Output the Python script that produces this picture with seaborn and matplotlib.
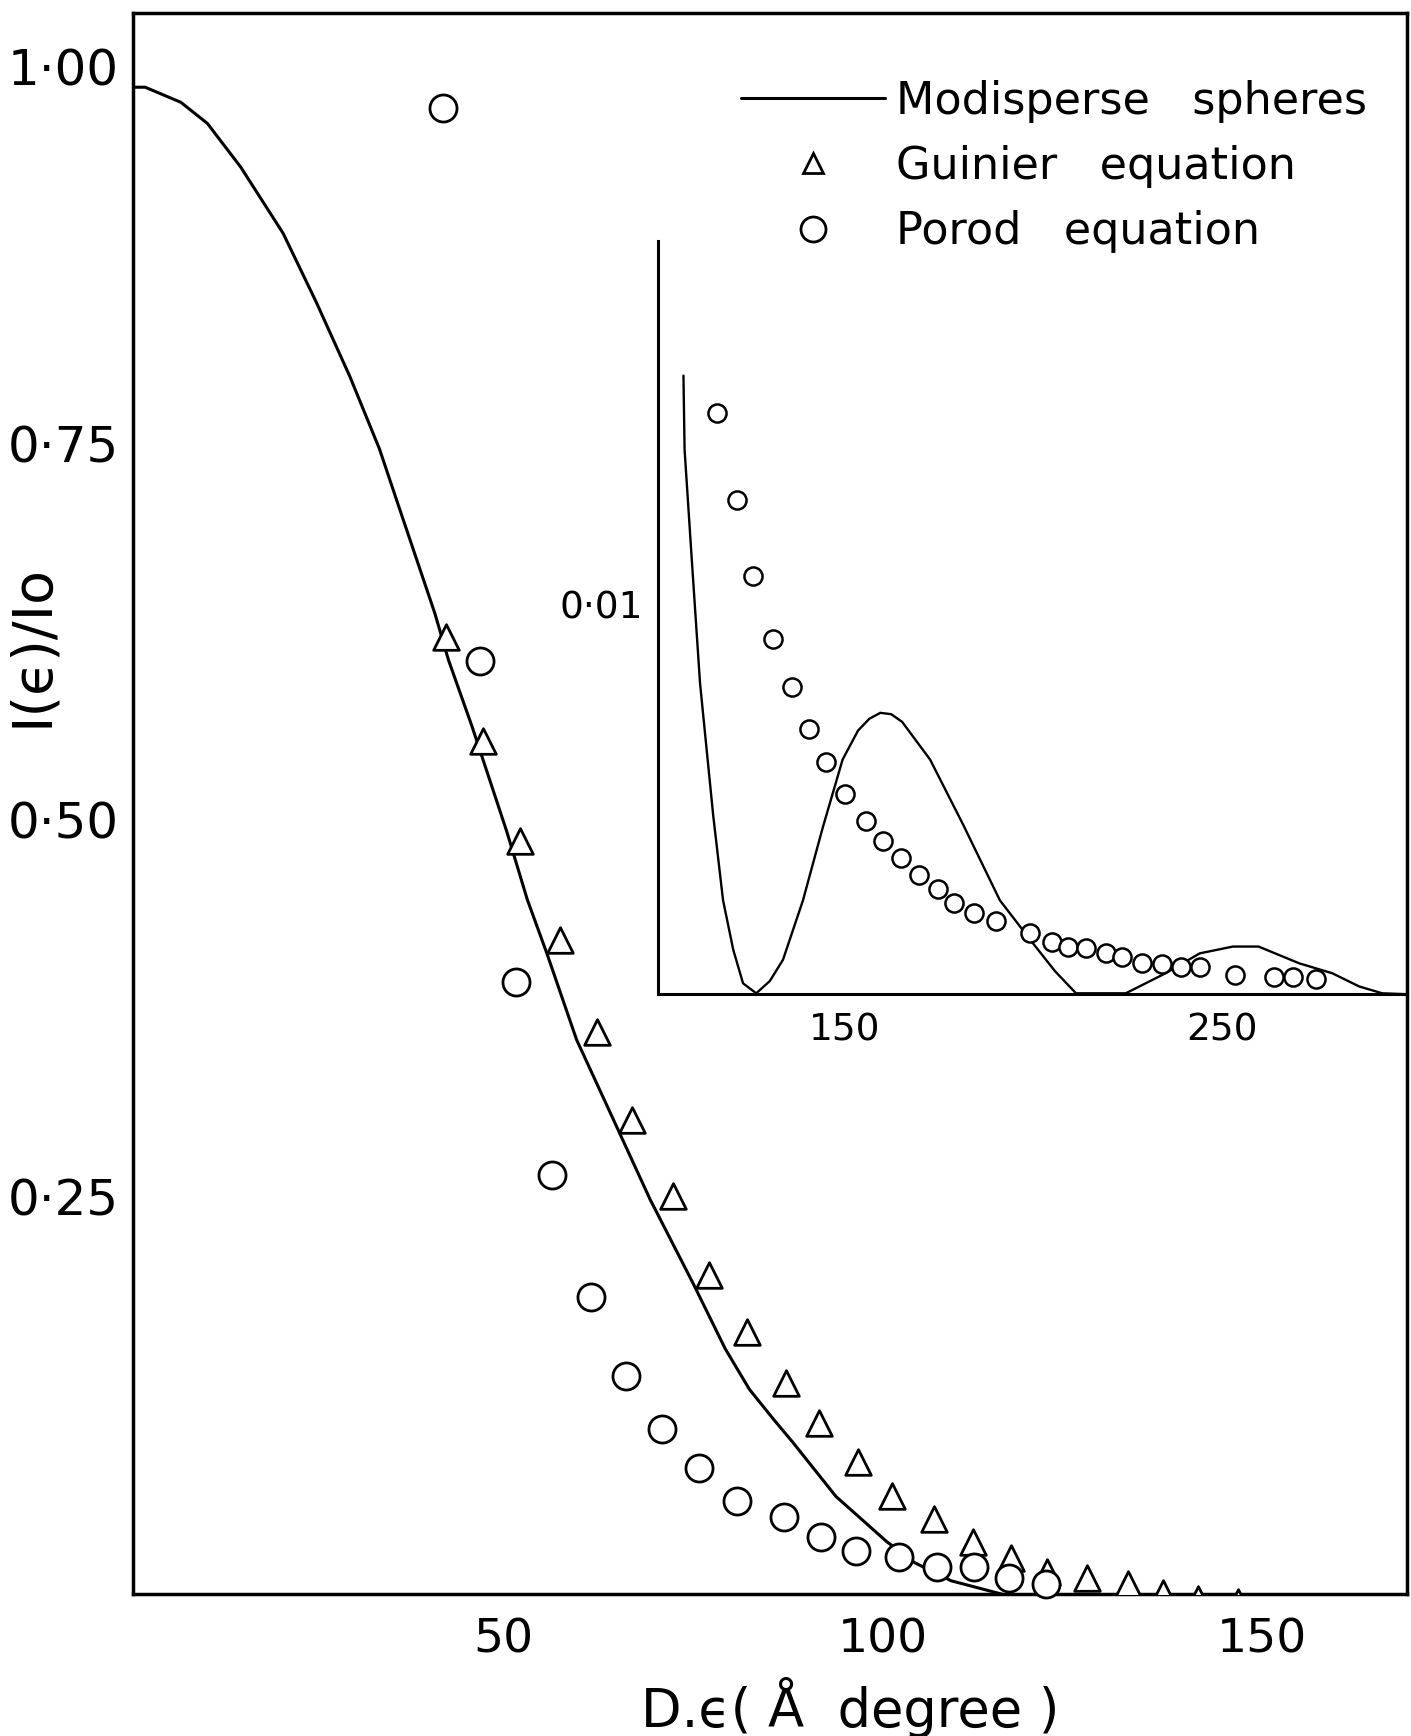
import numpy as np
import pandas as pd
import matplotlib
matplotlib.use("Agg")
import matplotlib.pyplot as plt
from matplotlib.lines import Line2D
from matplotlib.transforms import ScaledTranslation
import seaborn as sns

# --- main panel ---
# monodisperse spheres curve
sphere_x = [1.1, 2.7, 7.4, 10.9, 15.3, 20.9, 25.3, 29.7, 33.6, 35.8, 40.9, 42.7, 45.8,
            50.4, 53.1, 55.7, 59.6, 64.0, 69.3, 75.0, 79.2, 82.4, 85.6, 88.1, 93.8,
            100.5, 104.2, 109.0, 115.8]
sphere_y = [1.000, 1.000, 0.990, 0.976, 0.947, 0.903, 0.857, 0.808, 0.760, 0.727, 0.651,
            0.620, 0.576, 0.506, 0.461, 0.425, 0.368, 0.320, 0.262, 0.206, 0.163, 0.136,
            0.116, 0.101, 0.065, 0.035, 0.021, 0.009, 0.0]

# Guinier equation (triangles)
guinier_x = [42.4, 47.2, 52.2, 57.4, 62.3, 66.9, 72.3, 77.0, 82.1, 87.2, 91.6, 96.7,
             101.2, 106.8, 111.9, 116.9, 121.7, 126.9, 132.3, 137.0, 141.5, 146.9]
guinier_y = [0.635, 0.566, 0.500, 0.434, 0.373, 0.315, 0.264, 0.212, 0.174, 0.140, 0.114,
             0.088, 0.065, 0.050, 0.035, 0.024, 0.015, 0.011, 0.007, 0.001, -0.003, -0.005]

# Porod equation (circles)
porod_x = [42.0, 46.8, 51.6, 56.4, 61.5, 66.1, 70.9, 75.8, 80.7, 86.9, 91.9, 96.4,
           102.1, 107.2, 112.0, 116.7, 121.5]
porod_y = [0.986, 0.619, 0.406, 0.278, 0.197, 0.145, 0.110, 0.084, 0.062, 0.051, 0.038,
           0.029, 0.025, 0.018, 0.018, 0.011, 0.007]

# --- inset (tail of the curve) ---
inset_sphere_x = [107.2, 107.5, 109.5, 111.6, 115.1, 117.7, 120.4, 123.0, 126.5, 130.1,
                  133.6, 138.9, 144.1, 149.4, 153.5, 156.5, 159.4, 162.3, 165.2, 172.6,
                  181.4, 191.1, 199.9, 205.7, 211.3, 224.5, 235.0, 244.1, 252.9, 259.7,
                  270.5, 279.3, 286.4, 292.5, 299.0]
inset_sphere_y = [0.01541, 0.01378, 0.01124, 0.00863, 0.00571, 0.00385, 0.00276, 0.00202,
                  0.00180, 0.00207, 0.00254, 0.00385, 0.00544, 0.00695, 0.00759, 0.00785,
                  0.00798, 0.00795, 0.00778, 0.00695, 0.00551, 0.00385, 0.00290, 0.00229,
                  0.00180, 0.00180, 0.00224, 0.00268, 0.00283, 0.00283, 0.00246, 0.00224,
                  0.00195, 0.00180, 0.00178]

inset_porod_x = [116.0, 121.3, 125.7, 130.9, 135.9, 140.6, 145.0, 150.0, 155.6, 160.0,
                 165.0, 169.6, 174.6, 179.0, 184.3, 190.2, 199.0, 204.8, 209.2, 213.9,
                 219.2, 223.6, 228.9, 234.2, 239.1, 244.1, 253.5, 263.8, 268.8, 274.9]
inset_porod_y = [0.01459, 0.01266, 0.01100, 0.00961, 0.00854, 0.00763, 0.00690, 0.00620,
                 0.00559, 0.00515, 0.00478, 0.00441, 0.00410, 0.00380, 0.00356, 0.00339,
                 0.00312, 0.00293, 0.00283, 0.00280, 0.00268, 0.00261, 0.00246, 0.00244,
                 0.00237, 0.00237, 0.00220, 0.00215, 0.00215, 0.00212]

main_xticks = [50, 100, 150]
main_yticks = [0.25, 0.50, 0.75, 1.00]
main_ylabels = ['0·25', '0·50', '0·75', '1·00']
inset_xticks = [150, 200, 250]
inset_xlabels = ['150', '', '250']
inset_yticks = [0.005, 0.010, 0.015]
inset_ylabels = ['', '0·01', '']

legend_labels = ['Modisperse   spheres', 'Guinier   equation', 'Porod   equation']

sns.set_style("white")
plt.rcParams['font.family'] = ['DejaVu Sans']
plt.rcParams['text.color'] = 'black'
plt.rcParams['axes.labelcolor'] = 'black'
plt.rcParams['xtick.color'] = 'black'
plt.rcParams['ytick.color'] = 'black'

fig = plt.figure(figsize=(14.11, 17.36), dpi=100)
ax = fig.add_axes([0.0943, 0.0816, 0.997 - 0.0943, 0.9923 - 0.0816])

curve_df = pd.DataFrame({'x': sphere_x, 'y': sphere_y})
sns.lineplot(data=curve_df, x='x', y='y', ax=ax, color='black', lw=2.2,
             sort=False, estimator=None, zorder=2)
sns.scatterplot(x=guinier_x, y=guinier_y, ax=ax, marker='^', s=340,
                facecolor='white', edgecolor='black', linewidth=2.0, zorder=3)
sns.scatterplot(x=porod_x, y=porod_y, ax=ax, marker='o', s=380,
                facecolor='white', edgecolor='black', linewidth=2.0, zorder=4,
                clip_on=False)

ax.set_xlim(1.1, 169.1)
ax.set_ylim(0, 1.049)
ax.set_xticks(main_xticks)
ax.set_xticklabels([str(t) for t in main_xticks])
ax.set_yticks(main_yticks)
ax.set_yticklabels(main_ylabels)
ax.tick_params(axis='x', direction='in', length=17, width=2, pad=17, labelsize=34)
ax.tick_params(axis='y', direction='in', length=16, width=2, pad=10, labelsize=36)
for sp in ax.spines.values():
    sp.set_visible(True)
    sp.set_color('black')
    sp.set_linewidth(2.5)

up = ScaledTranslation(0, 15 / 72, fig.dpi_scale_trans)
for lab in ax.get_yticklabels():
    lab.set_transform(lab.get_transform() + up)

ax.set_xlabel('D.ϵ( Å  degree )', fontsize=38)
ax.xaxis.set_label_coords(0.563, -0.052)
ax.set_ylabel('I(ϵ)/Io', fontsize=40)
ax.yaxis.set_label_coords(-0.058, 0.600)

handles = [
    Line2D([], [], color='black', lw=2.2),
    Line2D([], [], marker='^', ls='none', ms=14, mfc='white', mec='black', mew=2),
    Line2D([], [], marker='o', ls='none', ms=18, mfc='white', mec='black', mew=2),
]
ax.legend(handles, legend_labels, loc='upper right', bbox_to_anchor=(0.969, 0.958),
          frameon=False, fontsize=32, handlelength=3.25, handletextpad=0.25,
          labelspacing=0.5, borderpad=0, borderaxespad=0)

# inset
axin = fig.add_axes([0.4662, 0.4273, 0.997 - 0.4662, 0.861 - 0.4273])
axin.patch.set_alpha(0)
inset_df = pd.DataFrame({'x': inset_sphere_x, 'y': inset_sphere_y})
sns.lineplot(data=inset_df, x='x', y='y', ax=axin, color='black', lw=1.7,
             sort=False, estimator=None, zorder=2)
sns.scatterplot(x=inset_porod_x, y=inset_porod_y, ax=axin, marker='o', s=170,
                facecolor='white', edgecolor='black', linewidth=1.8, zorder=3)
axin.set_xlim(100.4, 299)
axin.set_ylim(0.00178, 0.01837)
axin.set_xticks(inset_xticks)
axin.set_xticklabels(inset_xlabels)
axin.set_yticks(inset_yticks)
axin.set_yticklabels(inset_ylabels)
axin.tick_params(axis='x', direction='in', length=16, width=2, pad=13, labelsize=27)
axin.tick_params(axis='y', direction='in', length=11, width=2, pad=11, labelsize=27)
axin.set_xlabel('')
axin.set_ylabel('')
for name, sp in axin.spines.items():
    if name in ('left', 'bottom'):
        sp.set_visible(True)
        sp.set_color('black')
        sp.set_linewidth(2.2)
    else:
        sp.set_visible(False)

up_in = ScaledTranslation(0, 12 / 72, fig.dpi_scale_trans)
for lab in axin.get_yticklabels():
    lab.set_transform(lab.get_transform() + up_in)

fig.savefig('out.png', dpi=100)
